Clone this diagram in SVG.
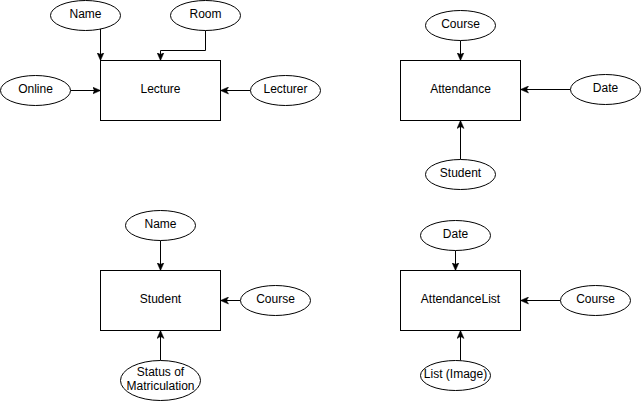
<svg xmlns="http://www.w3.org/2000/svg" width="641" height="401" viewBox="0 0 641 401">
<style>
.box{fill:#fff;stroke:#000;stroke-width:1}
.attr{fill:#fff;stroke:#000;stroke-width:1}
.lbl{font-family:"Liberation Sans",Arial,Helvetica,sans-serif;font-size:12px;fill:#000;text-anchor:middle}
.edge{fill:none;stroke:#000;stroke-width:1;marker-end:url(#arr)}
</style>
<defs>
<marker id="arr" markerUnits="userSpaceOnUse" viewBox="0 0 8 8" refX="8" refY="4" markerWidth="8" markerHeight="8" orient="auto">
<path d="M0,0.5 L8,4 L0,7.5 L2,4 Z" fill="#000" stroke="#000" stroke-width="0.5"/>
</marker>
</defs>
<rect width="641" height="401" fill="#fff"/>
<g id="connectors">
<path class="edge" d="M100.5,28.5 V60.5"/>
<path class="edge" d="M205.5,30.5 V50.5 H160.5 V60.5"/>
<path class="edge" d="M70.5,90.5 H100.5"/>
<path class="edge" d="M250.5,90.5 H220.5"/>
<path class="edge" d="M460.5,40.5 V60.5"/>
<path class="edge" d="M570.5,89.5 H520.5"/>
<path class="edge" d="M460.5,159.5 V120.5"/>
<path class="edge" d="M160.5,240.5 V270.5"/>
<path class="edge" d="M240.5,300.5 H220.5"/>
<path class="edge" d="M160.5,360.5 V330.5"/>
<path class="edge" d="M455.5,250.5 V270.5"/>
<path class="edge" d="M560.5,300.5 H520.5"/>
<path class="edge" d="M460.5,360.5 V330.5"/>
</g>
<g id="lecture"><rect class="box" x="100.5" y="60.5" width="120" height="60"/><text class="lbl" x="160.5" y="93">Lecture</text></g>
<g id="lecture-name"><ellipse class="attr" cx="85.5" cy="15.5" rx="35" ry="15"/><text class="lbl" x="85.5" y="18">Name</text></g>
<g id="lecture-room"><ellipse class="attr" cx="205.5" cy="15.5" rx="35" ry="15"/><text class="lbl" x="205.5" y="18">Room</text></g>
<g id="lecture-online"><ellipse class="attr" cx="35.5" cy="90.5" rx="35" ry="15"/><text class="lbl" x="35.5" y="93">Online</text></g>
<g id="lecture-lecturer"><ellipse class="attr" cx="285.5" cy="90.5" rx="35" ry="15"/><text class="lbl" x="285.5" y="93">Lecturer</text></g>

<g id="attendance"><rect class="box" x="400.5" y="60.5" width="120" height="60"/><text class="lbl" x="460.5" y="93">Attendance</text></g>
<g id="attendance-course"><ellipse class="attr" cx="460.5" cy="25.5" rx="35" ry="15"/><text class="lbl" x="460.5" y="28">Course</text></g>
<g id="attendance-date"><ellipse class="attr" cx="605.5" cy="89.5" rx="35" ry="15"/><text class="lbl" x="605.5" y="92">Date</text></g>
<g id="attendance-student"><ellipse class="attr" cx="460.5" cy="174.5" rx="35" ry="15"/><text class="lbl" x="460.5" y="177">Student</text></g>

<g id="student"><rect class="box" x="100.5" y="270.5" width="120" height="60"/><text class="lbl" x="160.5" y="303">Student</text></g>
<g id="student-name"><ellipse class="attr" cx="160.5" cy="225.5" rx="35" ry="15"/><text class="lbl" x="160.5" y="228">Name</text></g>
<g id="student-course"><ellipse class="attr" cx="275.5" cy="300.5" rx="35" ry="15"/><text class="lbl" x="275.5" y="303">Course</text></g>
<g id="student-status"><ellipse class="attr" cx="160.5" cy="380.5" rx="40" ry="20"/><text class="lbl" x="160.5" y="376">Status of</text><text class="lbl" x="160.5" y="390">Matriculation</text></g>

<g id="attendancelist"><rect class="box" x="400.5" y="270.5" width="120" height="60"/><text class="lbl" x="460.5" y="303">AttendanceList</text></g>
<g id="attendancelist-date"><ellipse class="attr" cx="455.5" cy="235.5" rx="35" ry="15"/><text class="lbl" x="455.5" y="238">Date</text></g>
<g id="attendancelist-course"><ellipse class="attr" cx="595.5" cy="300.5" rx="35" ry="15"/><text class="lbl" x="595.5" y="303">Course</text></g>
<g id="attendancelist-list"><ellipse class="attr" cx="455.5" cy="375.5" rx="35" ry="15"/><text class="lbl" x="455.5" y="378">List (Image)</text></g>
</svg>
